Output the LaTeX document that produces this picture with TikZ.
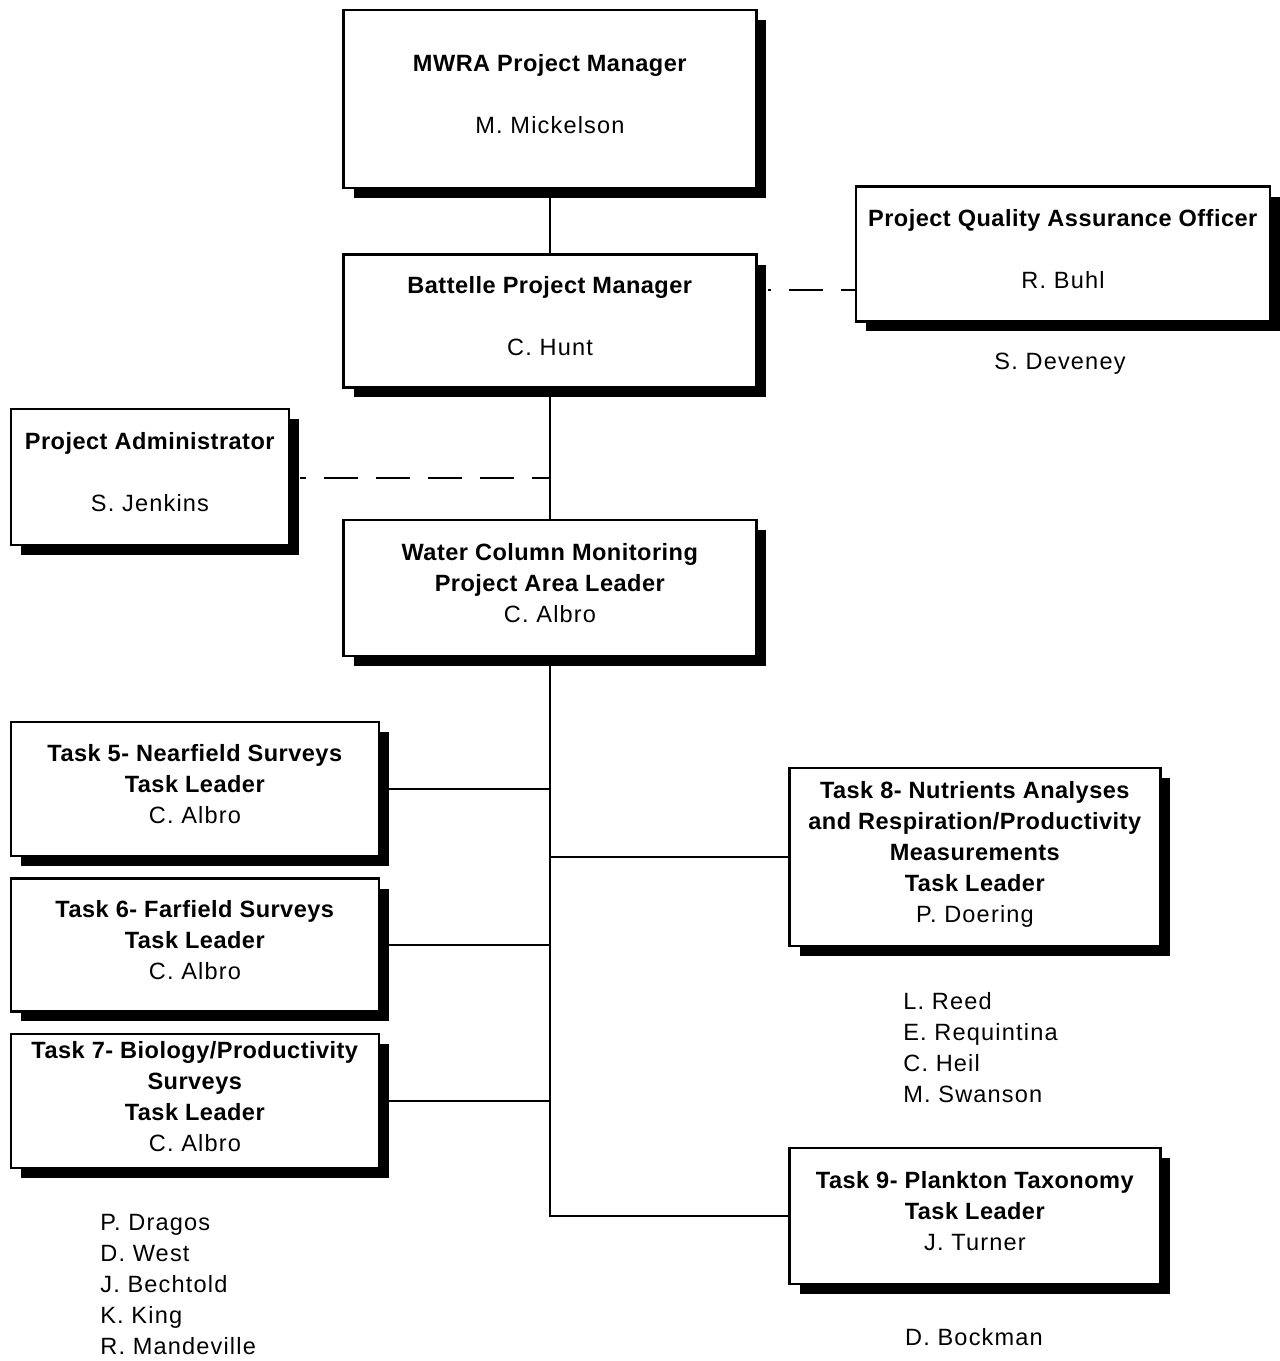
\documentclass[tikz,border=0pt]{standalone}
\usepackage{fontspec}
\setmainfont{Liberation Sans}[LetterSpace=5, BoldFeatures={LetterSpace=2}]
\usetikzlibrary{positioning, shadows}

\begin{document}
\begin{tikzpicture}[
  x=0.02cm, y=-0.02cm,
  box/.style={draw, line width=1.6pt, fill=white, align=center, inner sep=0pt,
    text depth=5.6pt, font=\fontsize{13.4}{17.6}\selectfont,
    drop shadow={fill=black, opacity=1, shadow xshift=0.2cm, shadow yshift=-0.2cm}},
  wide/.style={minimum width=8.26cm},
  task/.style={minimum width=7.36cm},
  staff/.style={align=left, inner sep=0pt, font=\fontsize{13.4}{17.6}\selectfont},
  link/.style={line width=1.6pt},
  dashlink/.style={line width=1pt, dash pattern=on 0.68cm off 0.36cm}
]
\useasboundingbox (0,0) rectangle (1279,1361);

% Management chain (middle column)
\node[box, wide, minimum height=3.56cm] (mwra) at (550,99)
  {\textbf{MWRA Project Manager}\\[17.6pt] M. Mickelson};
\node[box, wide, minimum height=2.66cm] (bpm) at (550,321)
  {\textbf{Battelle Project Manager}\\[17.6pt] C. Hunt};
\node[box, wide, minimum height=2.72cm] (wcm) at (550,588)
  {\textbf{Water Column Monitoring}\\ \textbf{Project Area Leader}\\ C. Albro};

% Support roles
\node[box, minimum width=8.28cm, minimum height=2.7cm] (qa) at (1063,254)
  {\textbf{Project Quality Assurance Officer}\\[17.6pt] R. Buhl};
\node[staff] (deveney) at (1060,364) {S. Deveney};
\node[box, minimum width=5.56cm, minimum height=2.72cm] (admin) at (150,477)
  {\textbf{Project Administrator}\\[17.6pt] S. Jenkins};

% Tasks (left column)
\node[box, task, minimum height=2.68cm] (t5) at (195,789)
  {\textbf{Task 5- Nearfield Surveys}\\ \textbf{Task Leader}\\ C. Albro};
\node[box, task, minimum height=2.66cm] (t6) at (195,945)
  {\textbf{Task 6- Farfield Surveys}\\ \textbf{Task Leader}\\ C. Albro};
\node[box, task, minimum height=2.68cm] (t7) at (195,1101)
  {\textbf{Task 7- Biology/Productivity}\\ \textbf{Surveys}\\ \textbf{Task Leader}\\ C. Albro};
\node[staff, anchor=north west] (t7staff) at (100,1214)
  {P. Dragos\\ D. West\\ J. Bechtold\\ K. King\\ R. Mandeville};

% Tasks (right column)
\node[box, minimum width=7.42cm, minimum height=3.56cm] (t8) at (975,857)
  {\textbf{Task 8- Nutrients Analyses}\\ \textbf{and Respiration/Productivity}\\
   \textbf{Measurements}\\ \textbf{Task Leader}\\ P. Doering};
\node[staff, anchor=north west] (t8staff) at (903,992)
  {L. Reed\\ E. Requintina\\ C. Heil\\ M. Swanson};
\node[box, minimum width=7.42cm, minimum height=2.72cm] (t9) at (975,1216)
  {\textbf{Task 9- Plankton Taxonomy}\\ \textbf{Task Leader}\\ J. Turner};
\node[staff] (bockman) at (974,1337) {D. Bockman};

% Connections
\coordinate (qalink) at (806,290);
\coordinate (adminlink) at (550,478);

\draw[link] (mwra.south) -- (bpm.north);
\draw[link] (bpm.south) -- (wcm.north);
\draw[link] (wcm.south) |- (t9.west);
\draw[link] (t5.east) -- (t5.east -| wcm.south);
\draw[link] (t6.east) -- (t6.east -| wcm.south);
\draw[link] (t7.east) -- (t7.east -| wcm.south);
\draw[link] (t8.west) -- (t8.west -| wcm.south);

\draw[dashlink, dash phase=0.62cm] ([xshift=0.2cm]qalink -| bpm.east) -- (qalink -| qa.west);
\draw[dashlink, dash phase=0.56cm] ([xshift=0.2cm]admin.east |- adminlink) -- (adminlink);

\end{tikzpicture}
\end{document}
